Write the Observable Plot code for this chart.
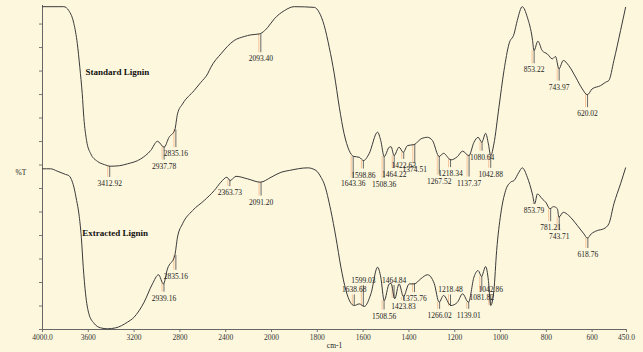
<!DOCTYPE html>
<html><head><meta charset="utf-8">
<script src="https://cdn.jsdelivr.net/npm/d3@7"></script>
<script src="https://cdn.jsdelivr.net/npm/@observablehq/plot@0.6"></script>
<style>
html,body{margin:0;padding:0;background:#fdf7dd;}
</style></head><body><div id="chart"></div>
<script>
// ---- data ----
const seriesNames = ["Standard Lignin", "Extracted Lignin"];
const seriesNameWn = [3624, 3653];
const seriesNameLevel = [10.95, 4.10];

const standardWn = [4000,3814,3770,3726,3696,3674,3653,3639,3615,3580,3521,3460,3405,3330,3259,3142,3055,2996,2938,2895,2845,2821,2777,2676,2617,2558,2530,2442,2326,2238,2180,2107,2060,2033,1988,1944,1901,1813,1792,1770,1748,1726,1704,1683,1661,1642,1617,1598,1574,1537,1523,1508,1486,1478,1465,1443,1425,1406,1377,1348,1319,1297,1268,1249,1217,1188,1166,1138,1116,1098,1082,1065,1053,1043,1029,1007,985,963,941,927,905,883,861,854,837,818,796,774,760,745,726,702,672,643,621,600,563,542,527,505,476,454];
const standardT = [13.74,13.74,13.57,13.02,12.17,11.15,10.04,9.02,8.04,7.49,7.16,7.02,6.95,6.97,7.05,7.26,7.62,8.01,7.76,8.18,8.49,9.18,9.60,10.17,10.52,10.88,11.16,11.73,12.30,12.47,12.54,12.58,12.72,12.86,13.22,13.57,13.74,13.71,13.50,12.94,12.01,10.88,9.46,8.33,7.62,7.37,7.33,7.19,7.48,8.40,8.04,7.36,7.76,7.78,7.40,7.76,7.54,7.83,7.87,8.11,8.18,8.04,7.36,7.50,7.22,7.36,7.59,7.40,7.97,8.18,7.97,8.35,7.90,7.40,7.90,9.46,11.02,12.16,12.58,13.15,13.74,13.29,12.37,11.87,12.27,11.87,11.73,11.52,11.62,11.09,11.45,11.23,10.74,10.24,9.99,10.24,10.38,10.52,10.60,11.45,12.72,13.71];

const extractedWn = [4000,3930,3871,3799,3770,3726,3702,3682,3661,3644,3624,3595,3551,3492,3434,3361,3259,3201,3113,3040,2987,2944,2909,2845,2821,2777,2690,2588,2501,2442,2390,2361,2311,2208,2098,2004,1959,1922,1842,1806,1784,1770,1741,1719,1697,1675,1656,1639,1617,1595,1566,1537,1523,1508,1486,1478,1462,1443,1424,1399,1377,1348,1319,1290,1268,1249,1217,1188,1166,1140,1116,1098,1083,1065,1053,1043,1029,1017,999,978,956,941,920,905,883,861,851,839,818,803,784,769,752,745,726,702,665,636,621,604,578,549,527,505,476,454];
const extractedT = [6.84,6.84,6.74,6.60,6.55,6.06,5.49,4.92,3.93,2.65,1.52,0.67,0.27,0.07,0.03,0.07,0.31,0.52,1.16,1.94,2.33,1.94,2.58,3.15,3.93,4.50,5.06,5.49,5.91,6.27,6.48,6.34,6.52,6.41,6.27,6.48,6.69,6.77,6.88,6.77,6.48,6.20,5.06,3.93,2.65,1.66,1.16,1.02,1.09,0.98,1.52,2.65,2.23,1.23,1.94,1.96,1.31,1.94,1.40,1.94,1.94,2.16,2.33,1.97,1.16,1.45,1.02,1.16,1.52,1.16,2.23,2.51,2.26,2.68,2.09,1.02,1.66,3.36,4.92,5.91,6.27,6.34,6.69,6.88,6.48,5.77,5.35,5.77,5.56,5.42,5.14,5.23,5.14,4.78,4.99,4.85,4.43,4.07,3.89,4.07,4.21,4.29,4.50,5.35,6.20,6.88];

const standardPeakLabels = ["3412.92","2937.78","2835.16","2093.40","1643.36","1598.86","1508.36","1464.22","1422.63","1374.51","1267.52","1218.34","1137.37","1080.64","1042.88","853.22","743.97","620.02"];
const standardPeakCurve = [6.94,7.76,8.49,12.58,7.36,7.19,7.36,7.40,7.53,7.87,7.36,7.23,7.40,7.97,7.40,11.87,11.09,9.99];
const standardPeakLevel = [6.21,6.95,7.48,11.52,6.20,6.57,6.17,6.60,6.98,6.80,6.31,6.63,6.23,7.33,6.60,11.05,10.31,9.18];

const extractedPeakLabels = ["2939.16","2835.16","2363.73","2091.20","1638.68","1599.03","1508.56","1464.84","1423.83","1375.76","1266.02","1218.48","1139.01","1081.82","1042.86","853.79","781.21","743.71","618.76"];
const extractedPeakCurve = [1.96,3.15,6.34,6.26,1.02,0.98,1.23,1.32,1.36,1.96,1.15,0.98,1.15,2.26,1.02,5.35,5.14,4.78,3.89];
const extractedPeakLevel = [1.33,2.26,5.82,5.42,1.69,2.09,0.57,2.09,0.98,1.31,0.60,1.69,0.60,1.37,1.70,5.06,4.33,3.96,3.19];

const xTicks = [4000,3600,3200,2800,2400,2000,1800,1600,1400,1200,1000,800,600,450];
const yTicks = [0,1,2,3,4,5,6,7,8,9,10,11,12,13];
const yLabel = "%T";
const xLabel = "cm-1";

// Axis expanded 2x below 2000 cm-1 (as in the instrument display)
const warp = d3.scaleLinear().domain([4000, 2000, 450]).range([0, 2000, 5100]);

// ---- build tables ----
const standard = standardWn.map((wn, i) => ({u: warp(wn), t: standardT[i]}));
const extracted = extractedWn.map((wn, i) => ({u: warp(wn), t: extractedT[i]}));
function peaks(labels, curve, level) {
  return labels.map((label, i) => {
    const below = level[i] < curve[i];
    return {label, u: warp(+label), c: curve[i], level: level[i], e: below ? level[i] + 0.26 : level[i] - 0.22};
  });
}
const allPeaks = peaks(standardPeakLabels, standardPeakCurve, standardPeakLevel)
  .concat(peaks(extractedPeakLabels, extractedPeakCurve, extractedPeakLevel));
const names = seriesNames.map((name, i) => ({name, u: warp(seriesNameWn[i]), level: seriesNameLevel[i]}));

const fmt = u => { const d = Math.round(warp.invert(u)); return (d === 4000 || d === 450) ? d.toFixed(1) : String(d); };

const chart = Plot.plot({
  width: 643, height: 352,
  marginLeft: 42, marginRight: 17, marginTop: 5, marginBottom: 23,
  style: {background: "#fdf7dd", fontFamily: "'Liberation Serif', 'Times New Roman', serif", fontSize: "7.5px", color: "#222"},
  x: {domain: [0, 5100], label: null},
  y: {domain: [0, 13.79], label: null},
  marks: [
    Plot.axisX({ticks: xTicks.map(d => warp(d)), tickFormat: fmt, tickSize: 3, tickPadding: 2, label: null, stroke: "#777", fill: "#333", fontSize: 7.5}),
    Plot.axisY({ticks: yTicks, tickSize: 3, tickFormat: () => "", label: null, stroke: "#777"}),
    Plot.ruleX([0], {stroke: "#666"}),
    Plot.ruleY([0], {stroke: "#666"}),
    Plot.ruleX(allPeaks, {x: "u", y1: "c", y2: "e", stroke: "#f2995e", strokeOpacity: 0.55, dx: -2}),
    Plot.ruleX(allPeaks, {x: "u", y1: "c", y2: "e", stroke: "#5a5a5a", strokeWidth: 0.9}),
    Plot.line(standard, {x: "u", y: "t", stroke: "#3a3a3a", strokeWidth: 1, curve: "monotone-x"}),
    Plot.line(extracted, {x: "u", y: "t", stroke: "#3a3a3a", strokeWidth: 1, curve: "monotone-x"}),
    Plot.text(allPeaks, {x: "u", y: "level", text: "label", fill: "#222", fontSize: 7.5}),
    Plot.text(names, {x: "u", y: "level", text: "name", textAnchor: "start", fontWeight: "bold", fontSize: 9, fill: "#111"}),
    Plot.text([yLabel], {frameAnchor: "left", dx: -27, dy: 5, fill: "#222", fontSize: 7.5}),
    Plot.text([xLabel], {frameAnchor: "bottom", dy: 18, fill: "#222", fontSize: 7.5})
  ]
});
document.getElementById("chart").appendChild(chart);
</script>
</body></html>
